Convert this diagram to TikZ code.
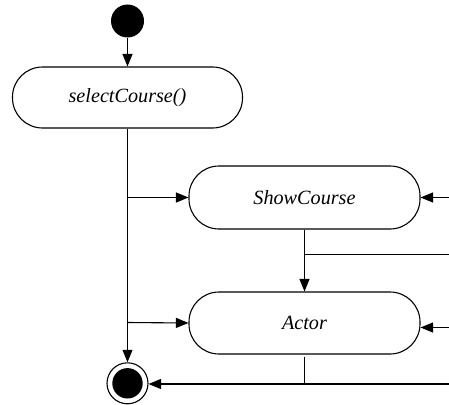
\documentclass[tikz,border=0pt]{standalone}
\usepackage{fontspec}
\newfontfamily\labelfont{Liberation Serif}
\usetikzlibrary{arrows.meta}
\begin{document}
\begin{tikzpicture}[x=1pt,y=-1pt,
  line width=1.1pt,
  activity/.style={rectangle, rounded corners=30pt, draw, fill=white, inner sep=0pt,
    font=\labelfont\fontsize{20.2}{23}\selectfont\itshape},
  arr/.style={-{Triangle[length=12.5pt,width=10pt]}},
]
\useasboundingbox (0,0) rectangle (449,404);

% initial and final states
\node[circle, fill=black, inner sep=0pt, minimum size=33pt] (start) at (127.5,21) {};
\node[circle, draw, inner sep=0pt, minimum size=41pt] (fin) at (127.5,383.3) {};
\fill (fin.center) circle (15.2pt);

% activities
\node[activity, minimum width=230pt, minimum height=61pt] (sel) at (127.5,97.5) {selectCourse()};
\node[activity, minimum width=231pt, minimum height=63pt] (show) at (304.5,197.5) {ShowCourse};
\node[activity, minimum width=231pt, minimum height=62pt] (actor) at (304.5,323) {Actor};

% junction points and open ends
\coordinate (j1) at (127.5,197.5);
\coordinate (j2) at (127.5,322.5);
\coordinate (r1) at (449,197.5);
\coordinate (r2) at (449,327.5);
\coordinate (sb) at (304.5,254.7);
\coordinate (r3) at (449,254.7);
\coordinate (at) at (304.5,356.7);
\coordinate (ab) at (304.5,384);
\coordinate (r4) at (449,384);

% flows
\draw[arr] (start) -- (sel);
\draw[arr] (sel.south) -- (fin.north);
\draw[arr] (j1) -- (show.west);
\draw[arr] (j2) -- (actor.west);
\draw[arr] (r1) -- (show.east);
\draw[arr] (r2) -- (actor.east |- r2);
\draw[arr] (show.south) -- (actor.north);
\draw (sb) -- (r3);
\draw (at) -- (ab);
\draw[arr] (r4) -- (fin.east |- r4);
\end{tikzpicture}
\end{document}
